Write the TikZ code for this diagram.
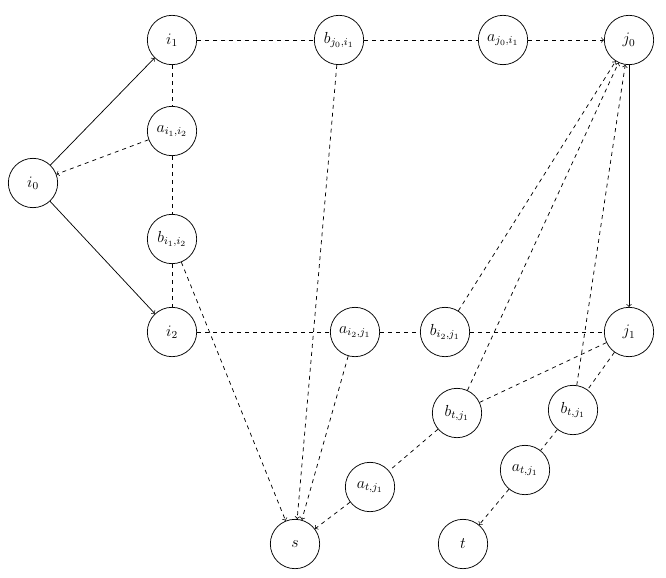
\documentclass[tikz,border=0pt]{standalone}
\begin{document}
\begin{tikzpicture}[x=0.75pt,y=-0.75pt,line width=0.55pt,
  v/.style={circle,draw,minimum size=37pt,inner sep=0pt,font=\large},
  sol/.style={->},
  dsh/.style={dashed},
  darr/.style={dashed,->}]
\useasboundingbox (0,0) rectangle (666,577);
\node[v] (i1) at (172,40) {$i_1$};
\node[v] (bj0i1) at (339,40) {$b_{j_0,i_1}$};
\node[v] (aj0i1) at (503,40) {$a_{j_0,i_1}$};
\node[v] (j0) at (629,40) {$j_0$};
\node[v] (ai1i2) at (172,131) {$a_{i_1,i_2}$};
\node[v] (i0) at (33,183) {$i_0$};
\node[v] (bi1i2) at (172,239) {$b_{i_1,i_2}$};
\node[v] (i2) at (172,332) {$i_2$};
\node[v] (ai2j1) at (355,332) {$a_{i_2,j_1}$};
\node[v] (bi2j1) at (445,332) {$b_{i_2,j_1}$};
\node[v] (j1) at (629,332) {$j_1$};
\node[v] (btl) at (457,413) {$b_{t,j_1}$};
\node[v] (btr) at (573,410) {$b_{t,j_1}$};
\node[v] (atl) at (370,487) {$a_{t,j_1}$};
\node[v] (atr) at (525,470) {$a_{t,j_1}$};
\node[v] (s) at (295,544) {$s$};
\node[v] (t) at (463,544) {$t$};
\draw[sol] (i0) -- (i1);
\draw[sol] (i0) -- (i2);
\draw[sol] (j0) -- (j1);
\draw[dsh] (i1) -- (bj0i1) -- (aj0i1);
\draw[darr] (aj0i1) -- (j0);
\draw[dsh] (i1) -- (ai1i2) -- (bi1i2) -- (i2);
\draw[darr] (ai1i2) -- (i0);
\draw[darr] (bi1i2) -- (s);
\draw[darr] (bj0i1) -- (s);
\draw[dsh] (i2) -- (ai2j1) -- (bi2j1) -- (j1);
\draw[darr] (ai2j1) -- (s);
\draw[darr] (bi2j1) -- (j0);
\draw[dsh] (j1) -- (btl) -- (atl);
\draw[darr] (btl) -- (j0);
\draw[darr] (atl) -- (s);
\draw[dsh] (j1) -- (btr) -- (atr);
\draw[darr] (btr) -- (j0);
\draw[darr] (atr) -- (t);
\end{tikzpicture}
\end{document}
